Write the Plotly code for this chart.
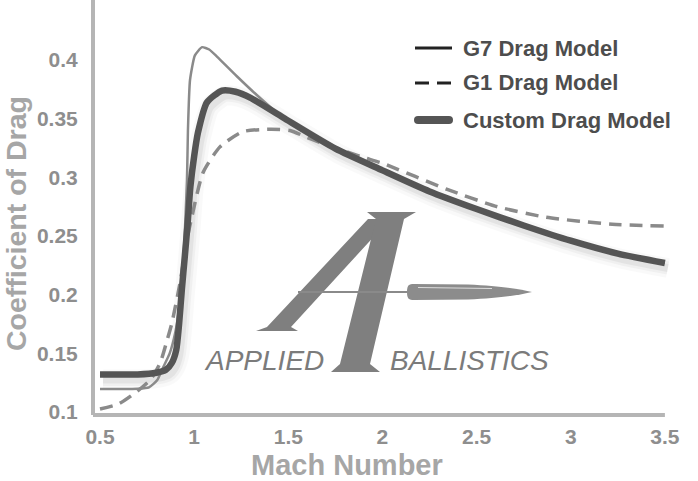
import plotly.graph_objects as go

# ---------------- data ----------------
mach_g7 = [0.5, 0.7, 0.76, 0.803, 0.835, 0.87, 0.9, 0.925, 0.945, 0.962, 0.967, 0.978,
           1.004, 1.042, 1.08, 1.121, 1.228, 1.334, 1.472, 1.75, 2.0, 2.25, 2.5, 2.75,
           3.0, 3.25, 3.5]
cd_g7 = [0.1196, 0.1198, 0.121, 0.127, 0.138, 0.150, 0.168, 0.195, 0.235, 0.298, 0.340,
         0.383, 0.404, 0.411, 0.409, 0.403, 0.386, 0.370, 0.351, 0.326, 0.306, 0.288,
         0.273, 0.259, 0.246, 0.235, 0.227]

mach_g1 = [0.5, 0.6, 0.7, 0.77, 0.82, 0.856, 0.882, 0.925, 0.962, 0.99, 1.047, 1.137,
           1.259, 1.403, 1.509, 1.6, 1.75, 1.9, 2.0, 2.34, 2.61, 2.87, 3.22, 3.5]
cd_g1 = [0.1025, 0.107, 0.118, 0.128, 0.142, 0.161, 0.176, 0.21, 0.247, 0.268, 0.304,
         0.326, 0.339, 0.341, 0.340, 0.334, 0.325, 0.317, 0.312, 0.290, 0.275, 0.266,
         0.260, 0.2585]

mach_custom = [0.5, 0.7, 0.8, 0.85, 0.882, 0.905, 0.92, 0.935, 0.95, 0.965, 0.98, 1.0,
               1.02, 1.068, 1.148, 1.22, 1.297, 1.472, 1.75, 2.0, 2.25, 2.5, 2.75, 3.0,
               3.25, 3.5]
cd_custom = [0.132, 0.132, 0.1335, 0.136, 0.142, 0.153, 0.175, 0.205, 0.232, 0.26, 0.292,
             0.318, 0.338, 0.364, 0.374, 0.373, 0.368, 0.351, 0.3245, 0.306, 0.288, 0.273,
             0.259, 0.246, 0.235, 0.227]

x_ticks = [0.5, 1, 1.5, 2, 2.5, 3, 3.5]
x_tick_text = ["0.5", "1", "1.5", "2", "2.5", "3", "3.5"]
y_ticks = [0.1, 0.15, 0.2, 0.25, 0.3, 0.35, 0.4]
y_tick_text = ["0.1", "0.15", "0.2", "0.25", "0.3", "0.35", "0.4"]

legend_names = ["G7 Drag Model", "G1 Drag Model", "Custom Drag Model"]
x_title = "Mach Number"
y_title = "Coefficient of Drag"
logo_left = "APPLIED"
logo_right = "BALLISTICS"

# ---------------- layout geometry ----------------
W, H = 698, 481
ML, MR, MT, MB = 93, 26, 0, 66
PW, PH = W - ML - MR, H - MT - MB
x_range = [0.4628, 3.5377]
y_range = [0.09744, 0.4512]
FONT = "Liberation Sans, Arial, Helvetica, sans-serif"


def fx(px):
    return (px - ML) / PW


def fy(py):
    return (H - MB - py) / PH


def path(points):
    s = "M " + " L ".join(f"{fx(a):.5f},{fy(b):.5f}" for a, b in points)
    return s + " Z"


# shadow offset (in pixels) turned into a shifted axis range
sdx, sdy = 3, 5
xr_shadow = [x_range[0] - sdx * (x_range[1] - x_range[0]) / PW,
             x_range[1] - sdx * (x_range[1] - x_range[0]) / PW]
yr_shadow = [y_range[0] + sdy * (y_range[1] - y_range[0]) / PH,
             y_range[1] + sdy * (y_range[1] - y_range[0]) / PH]

fig = go.Figure()

# soft shadow under the custom curve (drawn on base axes, below everything)
for w, a in [(20, 0.025), (13, 0.035), (8, 0.05)]:
    fig.add_trace(go.Scatter(x=mach_custom, y=cd_custom, mode="lines",
                             line=dict(color=f"rgba(0,0,0,{a})", width=w,
                                       shape="spline", smoothing=0.6),
                             hoverinfo="skip", showlegend=False,
                             xaxis="x", yaxis="y"))

fig.add_trace(go.Scatter(x=mach_g7, y=cd_g7, mode="lines", name=legend_names[0],
                         line=dict(color="#8a8a8a", width=2.5, shape="spline",
                                   smoothing=0.5),
                         showlegend=False, xaxis="x2", yaxis="y2"))
fig.add_trace(go.Scatter(x=mach_g1, y=cd_g1, mode="lines", name=legend_names[1],
                         line=dict(color="#8a8a8a", width=3.5, dash="13px,8px",
                                   shape="spline", smoothing=0.6),
                         showlegend=False, xaxis="x2", yaxis="y2"))
fig.add_trace(go.Scatter(x=mach_custom, y=cd_custom, mode="lines", name=legend_names[2],
                         line=dict(color="#555555", width=6.5, shape="spline",
                                   smoothing=0.6),
                         showlegend=False, xaxis="x2", yaxis="y2"))

shapes = []
# axis lines
shapes.append(dict(type="line", xref="paper", yref="paper", x0=0, x1=0, y0=0, y1=1,
                   line=dict(color="#b5b5b5", width=4), layer="below"))
shapes.append(dict(type="line", xref="x2", yref="paper", x0=x_range[0], x1=3.5,
                   y0=0, y1=0, line=dict(color="#b5b5b5", width=4), layer="below"))

# logo (decorative watermark)
logo_col = "#7f7f7f"
shapes.append(dict(type="path", xref="paper", yref="paper", layer="below",
                   path=path([(256, 331), (298, 331), (291, 327), (390, 219),
                              (368, 219), (267, 327)]),
                   fillcolor=logo_col, line=dict(width=0)))
shapes.append(dict(type="path", xref="paper", yref="paper", layer="below",
                   path=path([(367, 212), (416, 212), (404, 219), (370, 364),
                              (380, 372), (331, 372), (340, 364), (376, 219)]),
                   fillcolor=logo_col, line=dict(width=0)))
shapes.append(dict(type="line", xref="paper", yref="paper", layer="below",
                   x0=fx(298), x1=fx(410), y0=fy(292), y1=fy(292),
                   line=dict(color="#8a8a8a", width=2)))
bullet = (f"M {fx(407):.5f},{fy(292):.5f} "
          f"C {fx(407):.5f},{fy(285):.5f} {fx(409):.5f},{fy(284):.5f} {fx(414):.5f},{fy(284):.5f} "
          f"L {fx(468):.5f},{fy(284.5):.5f} "
          f"C {fx(500):.5f},{fy(286):.5f} {fx(520):.5f},{fy(289):.5f} {fx(532):.5f},{fy(292):.5f} "
          f"C {fx(520):.5f},{fy(295):.5f} {fx(500):.5f},{fy(298):.5f} {fx(468):.5f},{fy(299.5):.5f} "
          f"L {fx(414):.5f},{fy(300):.5f} "
          f"C {fx(409):.5f},{fy(300):.5f} {fx(407):.5f},{fy(299):.5f} {fx(407):.5f},{fy(292):.5f} Z")
shapes.append(dict(type="path", xref="paper", yref="paper", layer="below",
                   path=bullet, fillcolor="#8c8c8c", line=dict(width=0)))
shapes.append(dict(type="line", xref="paper", yref="paper", layer="below",
                   x0=fx(418), x1=fx(492), y0=fy(287.5), y1=fy(288.5),
                   line=dict(color="rgba(255,255,255,0.7)", width=1)))

# manual legend samples
leg_y = [48, 83, 120]
shapes.append(dict(type="line", xref="paper", yref="paper", x0=fx(415), x1=fx(452),
                   y0=fy(leg_y[0]), y1=fy(leg_y[0]), line=dict(color="#222222", width=3)))
shapes.append(dict(type="line", xref="paper", yref="paper", x0=fx(415), x1=fx(452),
                   y0=fy(leg_y[1]), y1=fy(leg_y[1]),
                   line=dict(color="#222222", width=3, dash="14px,8px")))
shapes.append(dict(type="line", xref="paper", yref="paper", x0=fx(418), x1=fx(449),
                   y0=fy(leg_y[2]), y1=fy(leg_y[2]), line=dict(color="#555555", width=8)))
shapes.append(dict(type="circle", xref="paper", yref="paper", x0=fx(414), x1=fx(422),
                   y0=fy(leg_y[2] + 4), y1=fy(leg_y[2] - 4), fillcolor="#555555",
                   line=dict(width=0)))
shapes.append(dict(type="circle", xref="paper", yref="paper", x0=fx(445), x1=fx(453),
                   y0=fy(leg_y[2] + 4), y1=fy(leg_y[2] - 4), fillcolor="#555555",
                   line=dict(width=0)))

annotations = []
for name, yy in zip(legend_names, leg_y):
    annotations.append(dict(text=name, xref="paper", yref="paper", x=fx(461), y=fy(yy),
                            xanchor="left", yanchor="middle", showarrow=False,
                            font=dict(family=FONT, size=22, color="#4d4d4d",
                                      weight="bold")))
annotations.append(dict(text=x_title, xref="paper", yref="paper", x=fx(347), y=fy(465),
                        xanchor="center", yanchor="middle", showarrow=False,
                        font=dict(family=FONT, size=29, color="#a6a6a6", weight="bold")))
annotations.append(dict(text=y_title, xref="paper", yref="paper", x=fx(16), y=fy(224),
                        xanchor="center", yanchor="middle", showarrow=False, textangle=-90,
                        font=dict(family=FONT, size=28.5, color="#a6a6a6", weight="bold")))
annotations.append(dict(text=f"<i>{logo_left}</i>", xref="paper", yref="paper",
                        x=fx(264), y=fy(360), xanchor="center", yanchor="middle",
                        showarrow=False,
                        font=dict(family=FONT, size=28, color="#7b7b7b")))
annotations.append(dict(text=f"<i>{logo_right}</i>", xref="paper", yref="paper",
                        x=fx(469), y=fy(360), xanchor="center", yanchor="middle",
                        showarrow=False,
                        font=dict(family=FONT, size=28, color="#7b7b7b")))

tick_font = dict(family=FONT, size=21, color="#8e8e8e", weight="bold")
fig.update_layout(
    width=W, height=H,
    margin=dict(l=ML, r=MR, t=MT, b=MB),
    paper_bgcolor="white", plot_bgcolor="white",
    showlegend=False,
    xaxis=dict(range=xr_shadow, visible=False),
    yaxis=dict(range=yr_shadow, visible=False),
    xaxis2=dict(range=x_range, overlaying="x", side="bottom", tickvals=x_ticks,
                ticktext=x_tick_text, showgrid=False, zeroline=False, showline=False,
                ticks="outside", ticklen=3, tickcolor="rgba(0,0,0,0)",
                tickfont=tick_font),
    yaxis2=dict(range=y_range, overlaying="y", side="left", tickvals=y_ticks,
                ticktext=y_tick_text, showgrid=False, zeroline=False, showline=False,
                ticks="outside", ticklen=10, tickcolor="rgba(0,0,0,0)",
                tickfont=tick_font),
    shapes=shapes,
    annotations=annotations,
)

fig.write_html("out.html",
               config={"displayModeBar": False},
               post_script="document.body.style.margin='0px';"
                           "document.body.style.overflow='hidden';")
